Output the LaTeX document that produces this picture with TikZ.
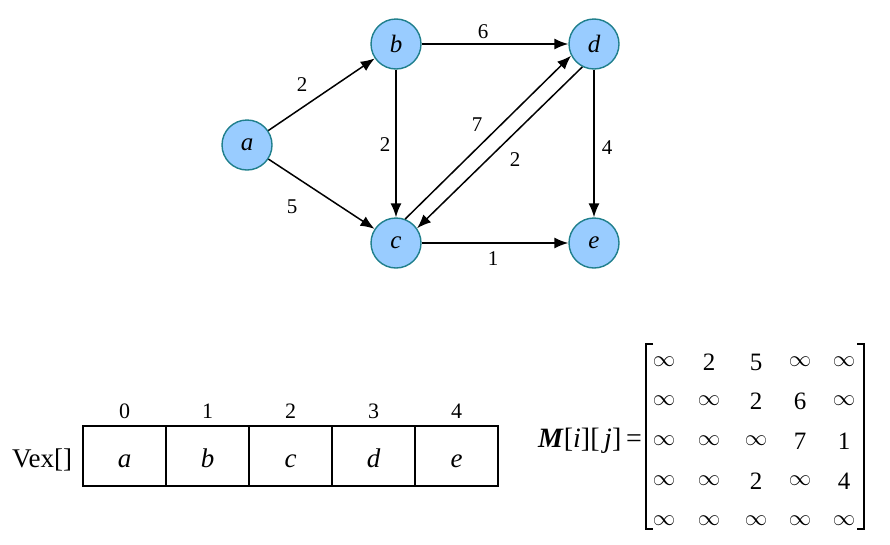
\documentclass[tikz,border=0pt]{standalone}
\usepackage{fontspec}
\usepackage{graphicx}
\setmainfont{Liberation Serif}
\usetikzlibrary{arrows.meta}
\definecolor{nodefill}{HTML}{99CCFF}
\definecolor{nodeedge}{HTML}{1F7F8C}
\tikzset{
  vtx/.style={circle,draw=nodeedge,fill=nodefill,line width=1.4pt,minimum size=50pt,inner sep=0pt,font=\fontsize{25}{29}\selectfont\itshape},
  edge/.style={line width=1.5pt,-{Latex[length=14pt,width=11pt]}},
  wt/.style={font=\fontsize{21}{25}\selectfont,inner sep=1pt},
  cell/.style={draw,line width=1.5pt,minimum width=83pt,minimum height=60pt,inner sep=0pt},
  celltxt/.style={anchor=base,inner sep=0pt,font=\fontsize{27}{31}\selectfont\itshape},
  idx/.style={font=\fontsize{22}{26}\selectfont},
  ent/.style={font=\fontsize{25}{29}\selectfont,inner sep=0pt},
  brk/.style={line width=1.2pt},
}
\begin{document}
\begin{tikzpicture}[x=1pt,y=-1pt]
\useasboundingbox (0,0) rectangle (890,544);
% graph
\node[vtx] (a) at (247,145) {a};
\node[vtx] (b) at (396,44) {b};
\node[vtx] (d) at (594,44) {d};
\node[vtx] (c) at (396,243) {c};
\node[vtx] (e) at (594,243) {e};
\draw[edge] (a) -- (b);
\draw[edge] (a) -- (c);
\draw[edge] (b) -- (d);
\draw[edge] (b) -- (c);
\draw[edge] (d) -- (e);
\draw[edge] (c) -- (e);
\draw[edge] (c.69) -- (d.-153);
\draw[edge] (d.-117) -- (c.35);
\node[wt] (w1) at (302,85) {2};
\node[wt] (w2) at (292,207) {5};
\node[wt] (w3) at (483,32) {6};
\node[wt] (w4) at (385,145) {2};
\node[wt] (w5) at (477,125) {7};
\node[wt] (w6) at (515,160) {2};
\node[wt] (w7) at (607,148) {4};
\node[wt] (w8) at (493,259) {1};
% table
\node[font=\fontsize{27}{31}\selectfont,anchor=base,inner sep=0pt] (vex) at (42,467) {Vex[]};
\foreach \i/\l in {0/a,1/b,2/c,3/d,4/e}{
  \node[cell] (t\i) at ({124.5+83*\i},456) {};
  \node[celltxt] (l\i) at ({124.5+83*\i},467) {\l};
  \node[idx] (n\i) at ({124.5+83*\i},411) {\i};
}
% matrix
\node[font=\fontsize{28}{32}\selectfont,anchor=east,inner sep=0pt] (mlab) at (642,441) {\textbf{\textit{M}}[\textit{i}][\,\textit{j}]\,=};
\coordinate (lb1) at (653,344);
\coordinate (lb2) at (646,344);
\coordinate (lb3) at (646,529);
\coordinate (lb4) at (653,529);
\draw[brk] (lb1) -- (lb2) -- (lb3) -- (lb4);
\coordinate (rb1) at (857,344);
\coordinate (rb2) at (864,344);
\coordinate (rb3) at (864,529);
\coordinate (rb4) at (857,529);
\draw[brk] (rb1) -- (rb2) -- (rb3) -- (rb4);
\def\I{\scalebox{0.9}{$\infty$}}
\foreach \r/\row in {0/{\I,2,5,\I,\I},1/{\I,\I,2,6,\I},2/{\I,\I,\I,7,1},3/{\I,\I,2,\I,4},4/{\I,\I,\I,\I,\I}}{
  \foreach \v [count=\k from 0] in \row {
    \pgfmathsetmacro{\xx}{{664,709,756,800,844}[\k]}
    \pgfmathsetmacro{\yy}{{362,401,441,481,521}[\r]}
    \node[ent] (m\r\k) at (\xx,\yy) {\v};
  }
}
\end{tikzpicture}
\end{document}
